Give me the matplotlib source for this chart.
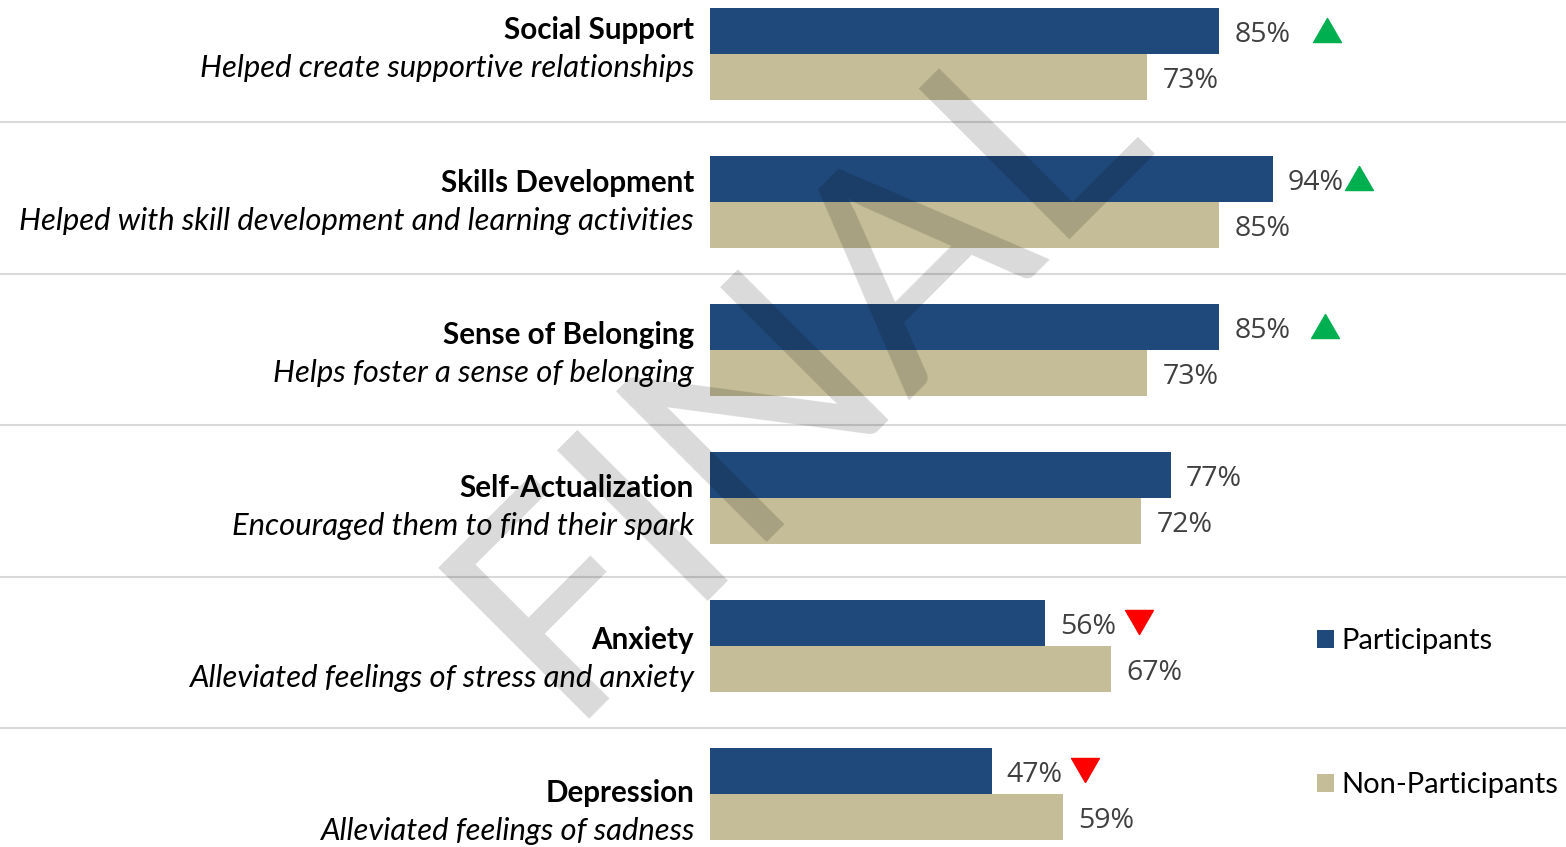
import matplotlib
matplotlib.use("Agg")
import matplotlib.pyplot as plt
from matplotlib.lines import Line2D
from matplotlib.path import Path
from matplotlib.transforms import offset_copy
import numpy as np

# ---------------- data ----------------
categories = ["Social Support", "Skills Development", "Sense of Belonging",
              "Self-Actualization", "Anxiety", "Depression"]
descriptions = ["Helped create supportive relationships",
                "Helped with skill development and learning activities",
                "Helps foster a sense of belonging",
                "Encouraged them to find their spark",
                "Alleviated feelings of stress and anxiety",
                "Alleviated feelings of sadness"]
participants = [85, 94, 85, 77, 56, 47]
non_participants = [73, 85, 73, 72, 67, 59]
change = ["up", "up", "up", None, "down", "down"]
series_names = ["Participants", "Non-Participants"]
watermark = "FINAL"

# ---------------- style ----------------
BLUE = "#1F497A"
TAN = "#C4BD97"
GREEN = "#00B050"
RED = "#FF0000"
SEP = "#D9D9D9"
VAL = "#404040"
LBL_FONT = "Lato"
VAL_FONT = "Open Sans"

W, H = 1566, 847
fig = plt.figure(figsize=(W / 100, H / 100), dpi=100)
fig.patch.set_facecolor("white")

x0_px = 710
px_per_pct = 5.99
pitch = 148
first_mid = 54
ax = fig.add_axes([x0_px / W, 0, 1 - x0_px / W, 1])
ax.set_xlim(0, (W - x0_px) / px_per_pct)
ax.set_ylim((H - first_mid) / pitch, -first_mid / pitch)
ax.axis("off")

n = len(categories)
idx = np.arange(n)
bh = 46 / pitch
b1 = ax.barh(idx - bh / 2, participants, height=bh, color=BLUE, zorder=2)
b2 = ax.barh(idx + bh / 2, non_participants, height=bh, color=TAN, zorder=2)

# value labels
for i in range(n):
    ax.annotate(f"{participants[i]}%", xy=(participants[i], idx[i] - bh / 2),
                xytext=(15, -4), textcoords="offset pixels", ha="left",
                va="center", fontsize=20.5, color=VAL, family=VAL_FONT)
    ax.annotate(f"{non_participants[i]}%", xy=(non_participants[i], idx[i] + bh / 2),
                xytext=(15, -4), textcoords="offset pixels", ha="left",
                va="center", fontsize=20.5, color=VAL, family=VAL_FONT)

# change indicators
up_tri = Path([(-0.5, -0.433), (0.5, -0.433), (0.0, 0.433), (-0.5, -0.433)],
              [Path.MOVETO, Path.LINETO, Path.LINETO, Path.CLOSEPOLY])
down_tri = Path([(-0.5, 0.433), (0.5, 0.433), (0.0, -0.433), (-0.5, 0.433)],
                [Path.MOVETO, Path.LINETO, Path.LINETO, Path.CLOSEPOLY])
gap_px = [108, 86, 106, 0, 94, 93]
for i in range(n):
    if change[i] is None:
        continue
    tr = offset_copy(ax.transData, fig=fig, x=gap_px[i], y=1, units="dots")
    ax.plot([participants[i]], [idx[i] - bh / 2], transform=tr,
            marker=up_tri if change[i] == "up" else down_tri,
            markersize=20, color=GREEN if change[i] == "up" else RED,
            linestyle="none", zorder=3, clip_on=False)

# category labels
for i in range(n):
    y_t = 1 - (30 + 152.6 * i) / H
    y_s = 1 - (68 + 152.6 * i) / H
    fig.text(694 / W, y_t, categories[i], ha="right", va="center",
             fontsize=21.3, fontweight="bold", family=LBL_FONT, color="black")
    fig.text(694 / W, y_s, descriptions[i], ha="right", va="center",
             fontsize=22.3, fontstyle="italic", family=LBL_FONT, color="black")

# separators
for i in range(n - 1):
    yf = 1 - (122 + 151.5 * i) / H
    fig.add_artist(Line2D([0, 1], [yf, yf], transform=fig.transFigure,
                          color=SEP, lw=1.5, zorder=1))

# legend
leg = ax.legend([b1, b2], series_names, loc="upper left",
                bbox_to_anchor=(1317 / W, 1 - 628 / H),
                bbox_transform=fig.transFigure, frameon=False,
                handlelength=0.58, handleheight=0.58, handletextpad=0.25,
                labelspacing=4.05, borderpad=0, borderaxespad=0,
                prop={"family": LBL_FONT, "size": 21.0})

# watermark
fig.text(562 / W, 1 - 719 / H, watermark, rotation=45, rotation_mode="anchor",
         ha="left", va="baseline", fontsize=214, family=LBL_FONT,
         color="black", alpha=0.15, zorder=10)

fig.savefig("out.png", dpi=100, facecolor="white")
